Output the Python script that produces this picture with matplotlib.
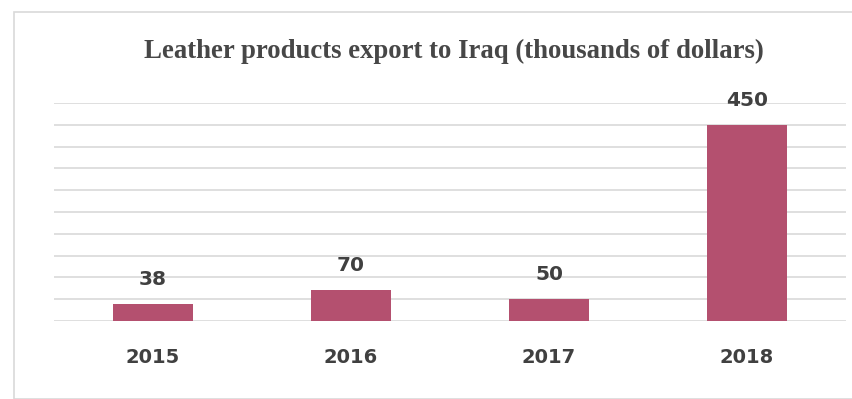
import matplotlib
matplotlib.use("Agg")
import matplotlib.pyplot as plt
from matplotlib.patches import Rectangle

years = ["2015", "2016", "2017", "2018"]
values = [38, 70, 50, 450]

W, H = 853, 399
fig = plt.figure(figsize=(W / 100, H / 100), dpi=100)
fig.patch.set_facecolor("white")

# outer chart-area border
fig.patches.append(Rectangle((14 / W, 0), 1 - 14 / W, 1 - 12 / H, transform=fig.transFigure,
                             fill=False, edgecolor="#d9d9d9", linewidth=1.2))

ax = fig.add_axes([54 / W, 1 - 321 / H, (846 - 54) / W, (321 - 103) / H])
x = range(len(years))
ax.bar(x, values, width=0.4, color="#B4506F", zorder=3)
ax.set_xlim(-0.5, len(years) - 0.5)
ax.set_ylim(0, 500)
ax.set_yticks(range(0, 501, 50))
ax.yaxis.grid(True, color="#d9d9d9", linewidth=1.2, zorder=0)
ax.tick_params(axis="y", left=False, labelleft=False)
ax.tick_params(axis="x", bottom=False, pad=16)
ax.set_xticks(list(x))
ax.set_xticklabels(years, fontsize=14, color="#404040", fontweight="bold", family="DejaVu Sans")
for s in ax.spines.values():
    s.set_visible(False)

for i, v in enumerate(values):
    ax.annotate(str(v), (i, v), xytext=(0, 11), textcoords="offset points",
                ha="center", va="bottom", fontsize=14.5, fontweight="bold", color="#404040",
                family="DejaVu Sans")

fig.text(454 / W, 1 - 51 / H, "Leather products export to Iraq (thousands of dollars)",
         ha="center", va="center", fontsize=19.3, color="#474747", family="Liberation Serif",
         fontweight="bold")

fig.savefig("out.png", dpi=100)
